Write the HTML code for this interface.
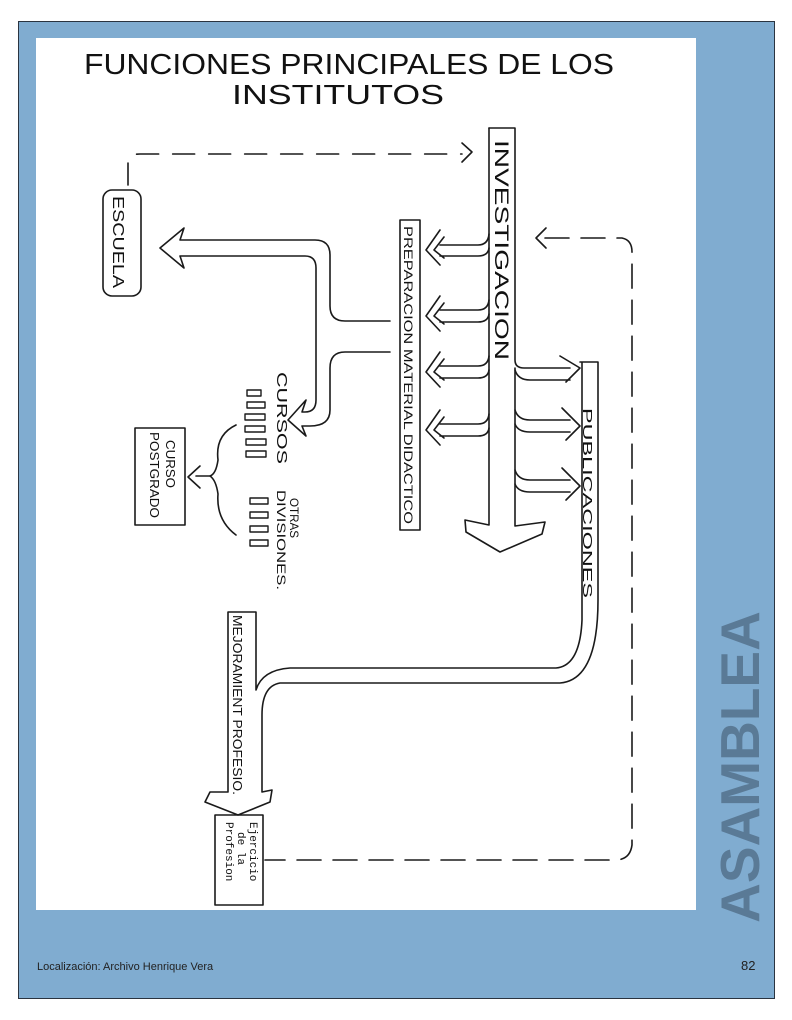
<!DOCTYPE html>
<html><head><meta charset="utf-8"><style>
html,body{margin:0;padding:0;background:#fff;}
body{width:792px;height:1020px;position:relative;overflow:hidden;font-family:"Liberation Sans",sans-serif;}
.bg{position:absolute;left:18px;top:21px;width:755px;height:976px;background:#80acd0;border:1px solid #2a3440;}
.panel{position:absolute;left:36px;top:38px;width:660px;height:872px;background:#fff;}
.asam{position:absolute;left:740px;top:767px;transform:translate(-50%,-50%) rotate(-90deg);font-weight:bold;font-size:55px;color:#5a7a96;white-space:nowrap;}
.foot{position:absolute;left:37px;top:961px;font-size:11px;color:#222;}
.pg{position:absolute;left:741px;top:958px;font-size:13px;color:#222;}
svg text{font-family:"Liberation Sans",sans-serif;fill:#111;}
</style></head><body>
<div class="bg"></div>
<div class="panel"></div>
<div class="asam">ASAMBLEA</div>
<div class="foot">Localización: Archivo Henrique Vera</div>
<div class="pg">82</div>
<svg width="792" height="1020" style="position:absolute;left:0;top:0" fill="none" stroke="#1a1a1a" stroke-width="1.6" stroke-linejoin="round" stroke-linecap="round">
<text x="84" y="74" font-size="29" textLength="530" lengthAdjust="spacingAndGlyphs" stroke="none">FUNCIONES PRINCIPALES DE LOS</text>
<text x="232" y="104" font-size="28" textLength="212" lengthAdjust="spacingAndGlyphs" stroke="none">INSTITUTOS</text>
<path d="M128,185 V160 Q130,154 140,154 H462" stroke-dasharray="22,14"/>
<path d="M462,143 L472,152 L462,162"/>
<path d="M489,128 H515 V360 Q515,368 524,368 H570 M560,356 L580,368 L566,382"/>
<path d="M489,128 V525 L465,520 L466,532 L500,552 L542,534 L545,522 L515,526 V368"/>
<text transform="translate(495,140) rotate(90)" font-size="19" textLength="220" lengthAdjust="spacingAndGlyphs" stroke="none">INVESTIGACION</text>
<rect x="400" y="220" width="20" height="310"/>
<text transform="translate(404,226) rotate(90)" font-size="12" textLength="298" lengthAdjust="spacingAndGlyphs" stroke="none">PREPARACION MATERIAL DIDACTICO</text>
<g>
<path d="M489,234 Q488,245 478,245 H440 M489,248 Q488,256 478,256 H440 M440,230 L426,250 L440,265 M444,237 L434,250 L444,258"/>
<path d="M489,300 Q488,310 478,310 H440 M489,314 Q488,322 478,322 H440 M440,296 L426,316 L440,331 M444,303 L434,316 L444,324"/>
<path d="M489,356 Q488,366 478,366 H440 M489,370 Q488,378 478,378 H440 M440,352 L426,372 L440,387 M444,359 L434,372 L444,380"/>
<path d="M489,414 Q488,424 478,424 H440 M489,428 Q488,436 478,436 H440 M440,410 L426,430 L440,445 M444,417 L434,430 L444,438"/>
</g>
<path d="M515,370 Q518,380 530,380 H570"/>
<path d="M515,410 Q518,420 530,420 H570 M515,424 Q518,432 530,432 H570 M562,408 L580,426 L566,440"/>
<path d="M515,470 Q518,480 530,480 H570 M515,484 Q518,492 530,492 H570 M562,468 L580,486 L566,500"/>
<path d="M580,362 H598 V600 Q598,680 560,683 H280 Q262,686 262,715 V792 L272,790 L270,802 L238,815 L205,802 L210,792 L228,792 V612 H256 V690 Q262,670 290,668 H556 Q580,666 582,620 V362"/>
<text transform="translate(583,408) rotate(90)" font-size="13" textLength="190" lengthAdjust="spacingAndGlyphs" stroke="none">PUBLICACIONES</text>
<text transform="translate(233,615) rotate(90)" font-size="13" textLength="180" lengthAdjust="spacingAndGlyphs" stroke="none">MEJORAMIENT PROFESIO.</text>
<rect x="215" y="815" width="48" height="90"/>
<text transform="translate(250,822) rotate(90)" font-size="11" stroke="none" style="font-family:'Liberation Mono',monospace">Ejercicio</text>
<text transform="translate(238,832) rotate(90)" font-size="11" stroke="none" style="font-family:'Liberation Mono',monospace">de la</text>
<text transform="translate(226,822) rotate(90)" font-size="11" stroke="none" style="font-family:'Liberation Mono',monospace">Profesion</text>
<path d="M545,238 H622 Q632,240 632,252 V845 Q630,860 615,860 H265" stroke-dasharray="24,12"/>
<path d="M546,228 L536,238 L546,248"/>
<rect x="103" y="190" width="38" height="106" rx="9"/>
<text transform="translate(113,196) rotate(90)" font-size="16" textLength="92" lengthAdjust="spacingAndGlyphs" stroke="none">ESCUELA</text>
<path d="M390,321 H345 Q330,321 330,306 V255 Q330,240 315,240 H180 L184,228 L160,248 L184,268 L180,256 H305 Q316,256 316,268 V400 Q316,412 305,412 H302 L306,400 L288,420 L306,436 L302,426 H310 Q330,426 330,410 V368 Q330,352 345,352 H390"/>
<text transform="translate(277,372) rotate(90)" font-size="15" textLength="92" lengthAdjust="spacingAndGlyphs" stroke="none">CURSOS</text>
<g stroke-width="1.4">
<rect x="247" y="390" width="14" height="6"/><rect x="247" y="402" width="18" height="6"/><rect x="245" y="414" width="20" height="6"/>
<rect x="245" y="426" width="20" height="6"/><rect x="246" y="439" width="20" height="6"/><rect x="246" y="451" width="20" height="6"/>
<rect x="250" y="498" width="18" height="6"/><rect x="250" y="512" width="18" height="6"/><rect x="250" y="526" width="18" height="6"/><rect x="250" y="540" width="18" height="6"/>
</g>
<text transform="translate(290,498) rotate(90)" font-size="12" textLength="40" lengthAdjust="spacingAndGlyphs" stroke="none">OTRAS</text>
<text transform="translate(277,490) rotate(90)" font-size="12" textLength="100" lengthAdjust="spacingAndGlyphs" stroke="none">DIVISIONES.</text>
<rect x="135" y="428" width="50" height="97"/>
<text transform="translate(166,440) rotate(90)" font-size="13" textLength="48" lengthAdjust="spacingAndGlyphs" stroke="none">CURSO</text>
<text transform="translate(150,432) rotate(90)" font-size="13" textLength="86" lengthAdjust="spacingAndGlyphs" stroke="none">POSTGRADO</text>
<path d="M236,425 Q215,435 218,460 Q216,474 210,476 Q216,480 218,494 Q216,520 236,535"/>
<path d="M210,476 H196 M200,466 L188,477 L200,488"/>
</svg>
</body></html>
